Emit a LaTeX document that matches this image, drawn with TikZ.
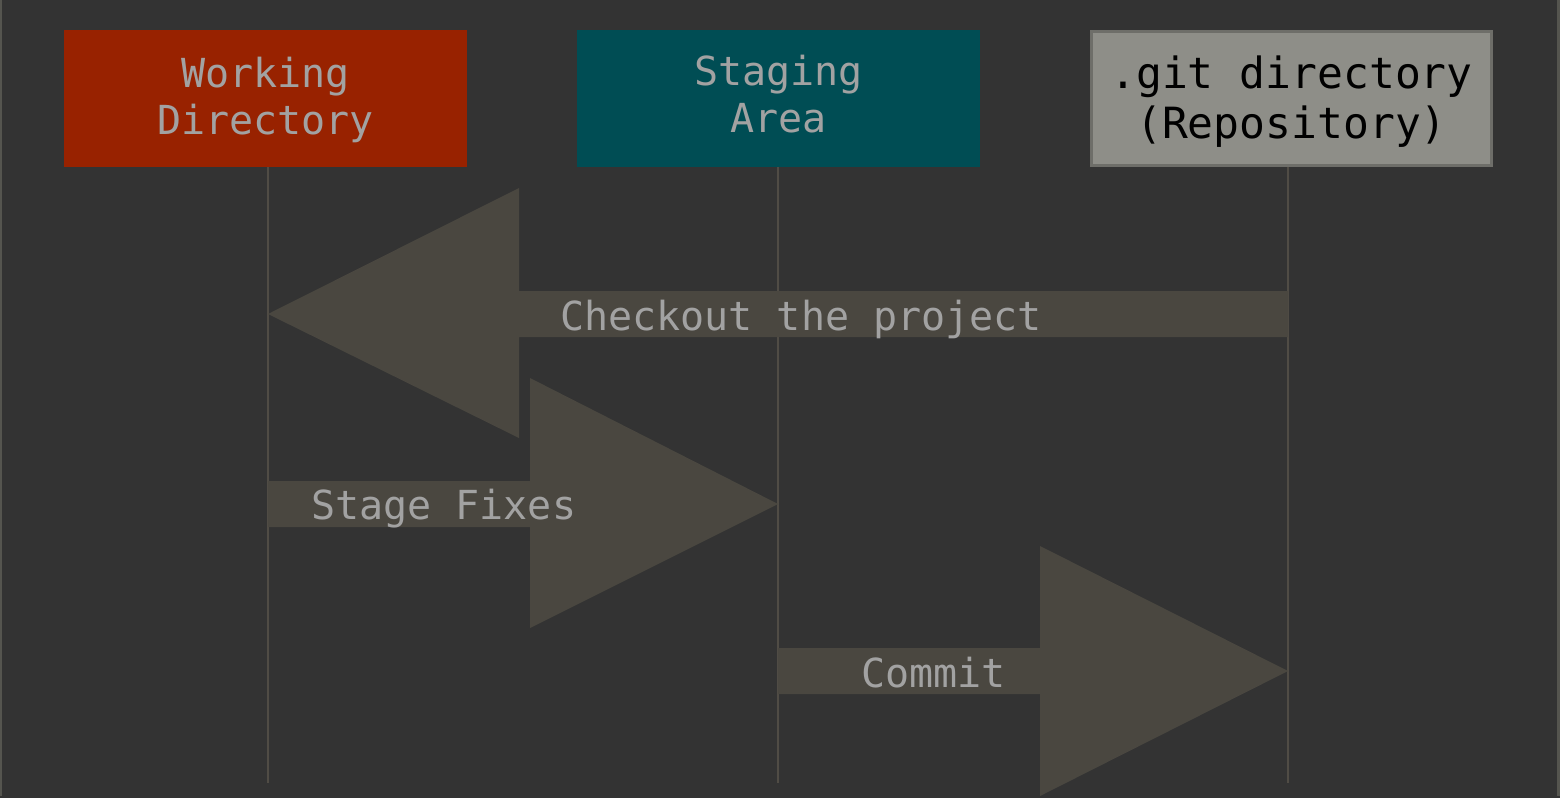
\documentclass[tikz,border=0pt]{standalone}
\usepackage{fontspec}
\setmonofont{DejaVu Sans Mono}
\definecolor{bg}{HTML}{333333}
\definecolor{wdred}{HTML}{982200}
\definecolor{stteal}{HTML}{004D54}
\definecolor{gitgray}{HTML}{8E8E88}
\definecolor{gitedge}{HTML}{6E6E69}
\definecolor{arrowfill}{HTML}{4A4740}
\definecolor{lanecol}{HTML}{504C45}
\definecolor{txtgray}{HTML}{A2A2A2}
\definecolor{framecol}{HTML}{55554F}
\newcommand{\boxtext}[2]{\raisebox{#1}[\height][\depth]{\begin{tabular}{@{}c@{}}#2\end{tabular}}}
\tikzset{
  box/.style={minimum width=403pt, minimum height=137pt, inner sep=0pt,
    font=\ttfamily\fontsize{40}{47}\selectfont, text=txtgray},
  lane/.style={draw=lanecol, line width=2.5pt},
  bigarrow/.style={fill=arrowfill, draw=none},
  arrowlabel/.style={font=\ttfamily\fontsize{40}{47}\selectfont, text=txtgray, inner sep=0pt}
}
\begin{document}
\begin{tikzpicture}[x=1pt,y=-1pt]
\fill[bg] (0,0) rectangle (1560,798);
\useasboundingbox (0,0) rectangle (1560,798);
\draw[framecol, line width=2.5pt] (1,0) -- (1,797);
\draw[framecol, line width=2.5pt] (1558.5,0) -- (1558.5,797);
\draw[black!80, line width=2pt] (0,797) -- (1560,797);

% lanes
\coordinate (wdx) at (268,0);
\coordinate (stx) at (778,0);
\coordinate (gitx) at (1288,0);

\node[box, fill=wdred] (wd) at (265.5,98.5) {\boxtext{-3pt}{Working\\Directory}};
\node[box, fill=stteal] (st) at (778.5,98.5) {\boxtext{-1pt}{Staging\\Area}};
\node[box, fill=gitgray, draw=gitedge, line width=3pt, text=black,
      font=\ttfamily\fontsize{43}{50}\selectfont, minimum width=400pt, minimum height=134pt] (git) at (1291.5,98.5) {\boxtext{-5pt}{.git directory\\(Repository)}};

\coordinate (wdend) at (268,783);
\coordinate (stend) at (778,783);
\coordinate (gitend) at (1288,783);
\draw[lane] (wd.south -| wdx) -- (wdend);
\draw[lane] (st.south -| stx) -- (stend);
\draw[lane] (git.south -| gitx) -- (gitend);

% Checkout arrow (git -> working)
\coordinate (co tail) at (1288,314);
\coordinate (co tip) at (268,314);
\fill[bigarrow] (co tip) -- (519,188) -- (519,291) -- (co tail |- 0,291) -- (co tail |- 0,337) -- (519,337) -- (519,438) -- cycle;
\node[arrowlabel, anchor=west] (colabel) at (560,319) {Checkout the project};

% Stage fixes arrow (working -> staging)
\coordinate (sf tail) at (268,504);
\coordinate (sf tip) at (778,504);
\fill[bigarrow] (sf tail |- 0,481) -- (530,481) -- (530,378) -- (sf tip) -- (530,628) -- (530,527) -- (sf tail |- 0,527) -- cycle;
\node[arrowlabel, anchor=west] (sflabel) at (311,509) {Stage Fixes};

% Commit arrow (staging -> git)
\coordinate (cm tail) at (778,671);
\coordinate (cm tip) at (1288,671);
\fill[bigarrow] (cm tail |- 0,648) -- (1040,648) -- (1040,546) -- (cm tip) -- (1040,796) -- (1040,694) -- (cm tail |- 0,694) -- cycle;
\node[arrowlabel, anchor=west] (cmlabel) at (861,673) {Commit};
\end{tikzpicture}
\end{document}
